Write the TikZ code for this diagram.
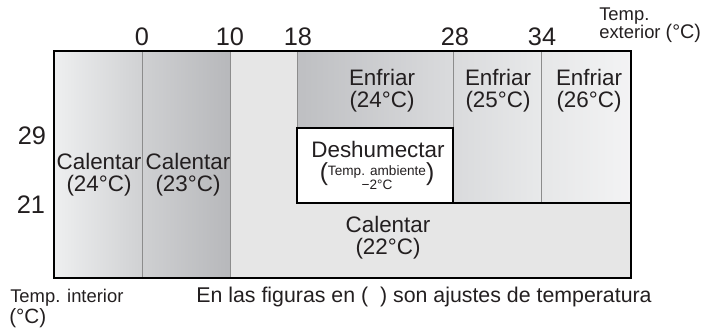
\documentclass[tikz,border=0pt]{standalone}
\usepackage{fontspec}
\setmainfont{Liberation Sans}
\usetikzlibrary{positioning}
\definecolor{heatLightL}{HTML}{EEEFF0}
\definecolor{heatLightR}{HTML}{D0D1D3}
\definecolor{heatDarkL}{HTML}{CFD0D2}
\definecolor{heatDarkR}{HTML}{B7B8BB}
\definecolor{heatFlat}{HTML}{E6E6E6}
\definecolor{coolAL}{HTML}{BEBFC2}
\definecolor{coolAR}{HTML}{DADBDD}
\definecolor{coolBL}{HTML}{D9DADC}
\definecolor{coolBR}{HTML}{E8E9EA}
\definecolor{coolCL}{HTML}{E6E7E8}
\definecolor{coolCR}{HTML}{F3F3F4}
\definecolor{divider}{HTML}{8C8C8C}
\definecolor{textMain}{HTML}{231F20}
\tikzset{
  zonelabel/.style={font=\fontsize{16.8}{16.5}\selectfont, text=textMain,
    align=center, inner sep=0pt},
  ticklabel/.style={font=\fontsize{19}{19}\selectfont, text=textMain,
    inner sep=0pt, anchor=base},
  axislabel/.style={font=\fontsize{13.8}{13.8}\selectfont, text=textMain,
    inner sep=0pt, anchor=base west},
  unitlabel/.style={font=\fontsize{15.5}{15.5}\selectfont, text=textMain,
    inner sep=0pt, anchor=base west},
  notelabel/.style={font=\fontsize{16}{16}\selectfont, text=textMain,
    inner sep=0pt, anchor=base},
  divline/.style={draw=divider, line width=0.6pt},
  frameline/.style={draw=black, line width=1.5pt},
  boxline/.style={draw=black, line width=1.1pt},
}
\newcommand{\ambnote}{%
  {\fontsize{18.5}{18.5}\selectfont(}%
  \raisebox{-2pt}{\fontsize{10.2}{10.8}\selectfont
    \begin{tabular}{@{}c@{}}Temp. ambiente\\−2°C\end{tabular}}%
  {\fontsize{18.5}{18.5}\selectfont)}}

\begin{document}
\begin{tikzpicture}[x=0.75pt, y=-0.75pt]
  \useasboundingbox (0,0) rectangle (704,328);

  % === Zones ===
  \fill[heatFlat] (230,51) rectangle (631,278);
  \shade[left color=heatLightL, right color=heatLightR] (54,51) rectangle (142,278);
  \shade[left color=heatDarkL, right color=heatDarkR] (142,51) rectangle (230,278);
  \shade[left color=coolAL, right color=coolAR] (297,51) rectangle (453,128);
  \shade[left color=coolBL, right color=coolBR] (453,51) rectangle (541,203);
  \shade[left color=coolCL, right color=coolCR] (541,51) rectangle (631,203);

  % Dividers
  \draw[divline] (142,51) -- (142,278);
  \draw[divline] (230,51) -- (230,278);
  \draw[divline] (297,51) -- (297,128);
  \draw[divline] (453,51) -- (453,128);
  \draw[divline] (541,51) -- (541,203);
  \draw[boxline] (453,203) -- (631,203);

  % Dehumidify box
  \draw[boxline, fill=white] (297,128) rectangle (453,203);

  % Outer frame
  \draw[frameline] (54,51) rectangle (631,278);

  % === Zone labels ===
  \node[zonelabel] (heatA) at (99,175) {Calentar\\(24°C)};
  \node[zonelabel] (heatB) at (188,175) {Calentar\\(23°C)};
  \node[zonelabel] (heatC) at (388,238) {Calentar\\(22°C)};
  \node[zonelabel] (coolA) at (382,91) {Enfriar\\(24°C)};
  \node[zonelabel] (coolB) at (498,91) {Enfriar\\(25°C)};
  \node[zonelabel] (coolC) at (589,91) {Enfriar\\(26°C)};
  \node[zonelabel, anchor=base] (dry) at (378,157) {Deshumectar};
  \node[zonelabel] (dryNote) at (377,178) {\ambnote};

  % === Axes ===
  \foreach \t/\x in {0/142, 10/230, 18/298, 28/455, 34/542}
    \node[ticklabel] (tick\t) at (\x,46) {\t};
  \node[ticklabel] (roomHi) at (32,145) {29};
  \node[ticklabel] (roomLo) at (31,213) {21};

  \node[axislabel] (extTemp) at (599,21) {Temp.};
  \node[axislabel] (extUnit) at (599,39) {exterior {\fontsize{14.8}{14.8}\selectfont(°C)}};
  \node[axislabel] (intTemp) at (10,302) {Temp. interior};
  \node[unitlabel] (intUnit) at (9,323) {(°C)};

  \node[notelabel] (note) at (424,302) {En las figuras en (\ \ ) son ajustes de temperatura};

\end{tikzpicture}
\end{document}
